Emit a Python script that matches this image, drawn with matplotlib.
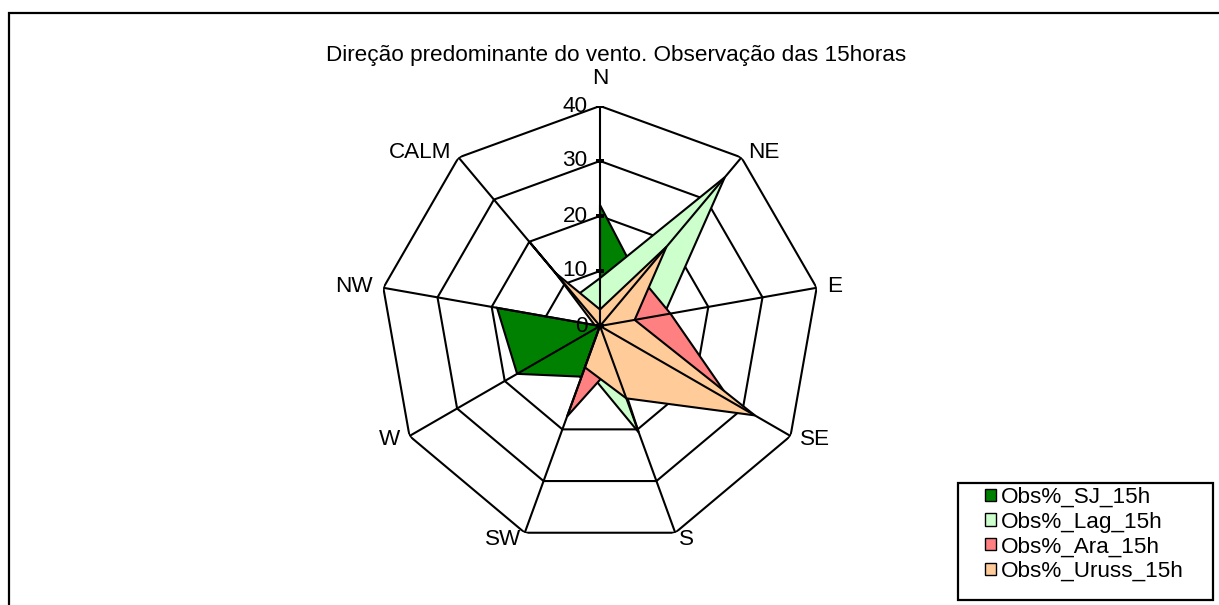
import numpy as np
import matplotlib.pyplot as plt
from matplotlib.patches import Patch, Rectangle

plt.rcParams['font.family'] = ['Liberation Sans', 'DejaVu Sans']

# wind direction frequencies (%) at the 15h observation
directions = ['N', 'NE', 'E', 'SE', 'S', 'SW', 'W', 'NW', 'CALM']
obs_sj = [22, 11, 3, 2, 0, 9.8, 17.4, 19, 0]
obs_lag = [8.7, 35.3, 11.8, 1, 20.6, 8, 0, 0, 7]
obs_ara = [0, 11.5, 13, 27.6, 7.4, 17.5, 0, 0, 20]
obs_uruss = [3, 18.8, 6.4, 32.5, 14, 8, 0, 1, 12.6]
series_names = ['Obs%_SJ_15h', 'Obs%_Lag_15h', 'Obs%_Ara_15h', 'Obs%_Uruss_15h']
colors = ['#008000', '#CCFFCC', '#FF8080', '#FFCC99']
rings = [0, 10, 20, 30, 40]
title = 'Direção predominante do vento. Observação das 15horas'

W, H = 1219, 605
fs = 16.2
lw = 1.5
fig = plt.figure(figsize=(W / 100, H / 100), dpi=100)

# chart area border (runs off the right and bottom edges)
fig.patches.append(Rectangle((9 / W, -0.1), 1.2, 1 - 13 / H + 0.1, transform=fig.transFigure,
                             fill=False, edgecolor='black', lw=1.6))

cx, cy, rad = 600, 326, 220
ax = fig.add_axes([(cx - rad) / W, (H - cy - rad) / H, 2 * rad / W, 2 * rad / H],
                  projection='polar')
ax.set_theta_offset(np.pi / 2)
ax.set_theta_direction(-1)
ax.set_ylim(0, 40)
ax.grid(False)
ax.spines['polar'].set_visible(False)
ax.set_xticks([])
ax.set_yticks([])
ax.patch.set_visible(False)

n = len(directions)
theta = np.arange(n) * 2 * np.pi / n
theta_c = np.append(theta, theta[0])

# polygon rings under the filled areas
for r in rings[1:]:
    ax.plot(theta_c, [r] * (n + 1), color='black', lw=lw, zorder=1)

all_series = [obs_sj, obs_lag, obs_ara, obs_uruss]
for i, (vals, c) in enumerate(zip(all_series, colors)):
    v = np.append(vals, vals[0])
    ax.fill(theta_c, v, facecolor=c, edgecolor='black', lw=lw, zorder=2 + i * 0.1)

# spokes on top
for t in theta:
    ax.plot([t, t], [0, rings[-1]], color='black', lw=lw, zorder=3)

# value labels along the N spoke
for r in rings:
    ax.plot([0], [r], marker='_', markersize=6, color='black', mew=lw, zorder=3)
    ax.annotate(str(r), (0, r), xytext=(-9, 0), textcoords='offset points',
                ha='right', va='center', fontsize=fs, zorder=4)

# direction labels outside the outer ring
for t, name in zip(theta, directions):
    ang = np.pi / 2 - t
    c, s = np.cos(ang), np.sin(ang)
    if abs(c) < 0.1:
        ha, off = 'center', (0, 20)
    else:
        ha = 'left' if c > 0 else 'right'
        off = (8 * c, 5 * s)
    ax.annotate(name, (t, rings[-1]), xytext=off, textcoords='offset points',
                ha=ha, va='center', fontsize=fs, zorder=4)

fig.text(616 / W, 1 - 55 / H, title, ha='center', va='center', fontsize=fs)

# legend
fig.patches.append(Rectangle((958 / W, 1 - 600 / H), 255 / W, 117 / H, transform=fig.transFigure,
                             fill=False, edgecolor='black', lw=1.6))
handles = [Patch(facecolor=c, edgecolor='black', lw=1) for c in colors]
fig.legend(handles, series_names, loc='upper left', bbox_to_anchor=(985 / W, 1 - 487 / H),
           frameon=False, fontsize=fs, handlelength=0.48, handleheight=0.48,
           handletextpad=0.22, labelspacing=0.16, borderpad=0, borderaxespad=0)

fig.savefig('out.png', dpi=100)
